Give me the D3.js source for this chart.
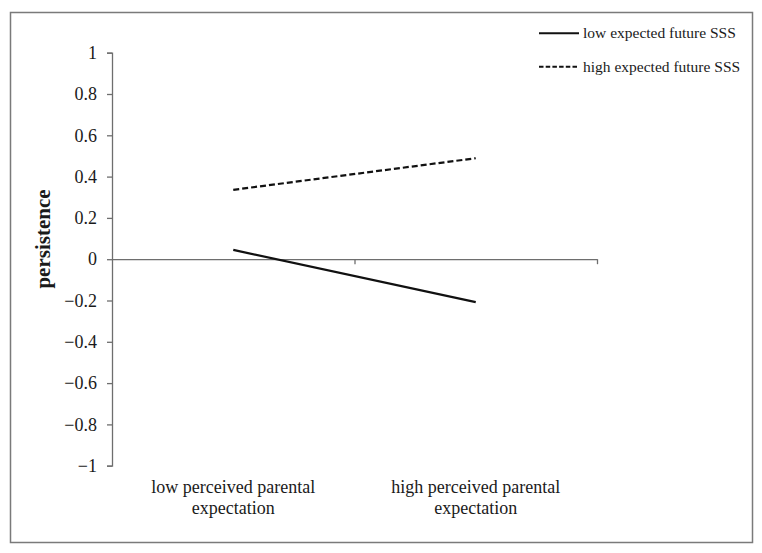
<!DOCTYPE html>
<html>
<head>
<meta charset="utf-8">
<script src="https://cdn.jsdelivr.net/npm/d3@7"></script>
<style>
  body { margin: 0; background: #fff; }
</style>
</head>
<body>
<div id="chart"></div>
<script>
// data
const categories = ["low perceived parental|expectation", "high perceived parental|expectation"];
const seriesNames = ["low expected future SSS", "high expected future SSS"];
const lowSSS = [0.045, -0.208];
const highSSS = [0.336, 0.489];
const yTicks = [-1, -0.8, -0.6, -0.4, -0.2, 0, 0.2, 0.4, 0.6, 0.8, 1];

const W = 762, H = 553;
const plot = {left: 112, right: 597, top: 52.7, bottom: 465.7};
const serif = "'Liberation Serif', 'Times New Roman', 'DejaVu Serif', serif";

const svg = d3.select("#chart")
  .append("svg")
  .attr("width", W)
  .attr("height", H)
  .attr("font-family", serif);

// outer frame
svg.append("rect")
  .attr("x", 10.5).attr("y", 12.5)
  .attr("width", 742).attr("height", 530)
  .attr("fill", "none")
  .attr("stroke", "#7a7a7a")
  .attr("stroke-width", 1.5);

const y = d3.scaleLinear().domain([-1, 1]).range([plot.bottom, plot.top]);
const x = d3.scaleBand().domain(categories).range([plot.left, plot.right]).padding(0);
const xEdge = d3.scaleLinear().domain([0, categories.length]).range([plot.left, plot.right]);
const cx = d => x(d) + x.bandwidth() / 2;

// y axis
const yAxis = svg.append("g")
  .attr("transform", `translate(${plot.left},0)`)
  .call(d3.axisLeft(y).tickValues(yTicks).tickSize(5).tickPadding(10)
    .tickFormat(d3.format("~g")));
yAxis.attr("font-family", serif).attr("font-size", 18);
yAxis.select(".domain").attr("stroke", "#6e6e6e").attr("stroke-width", 1.3);
yAxis.selectAll(".tick line").attr("stroke", "#6e6e6e").attr("stroke-width", 1.3);
yAxis.selectAll(".tick text")
  .style("font-family", serif)
  .style("font-size", "18px")
  .attr("fill", "#1a1a1a");

// x axis at zero
const xAxis = svg.append("g")
  .attr("transform", `translate(0,${y(0)})`)
  .call(d3.axisBottom(xEdge).tickValues(d3.range(1, categories.length + 1))
    .tickSize(5).tickSizeOuter(0).tickFormat(""));
xAxis.select(".domain").attr("stroke", "#6e6e6e").attr("stroke-width", 1.3);
xAxis.selectAll(".tick line").attr("stroke", "#6e6e6e").attr("stroke-width", 1.3);

// category labels
categories.forEach(c => {
  const t = svg.append("text")
    .attr("text-anchor", "middle")
    .attr("fill", "#1a1a1a")
    .style("font-family", serif)
    .style("font-size", "18px");
  c.split("|").forEach((line, i) => {
    t.append("tspan")
      .attr("x", cx(c))
      .attr("y", 493 + i * 21)
      .text(line);
  });
});

// y title
svg.append("text")
  .attr("transform", `translate(50,${(188 + 290) / 2}) rotate(-90)`)
  .attr("text-anchor", "middle")
  .attr("fill", "#1a1a1a")
  .style("font-family", serif)
  .style("font-size", "21px")
  .style("font-weight", "bold")
  .text("persistence");

// lines
const line = d3.line()
  .x((d, i) => cx(categories[i]))
  .y(d => y(d));

svg.append("path")
  .datum(lowSSS)
  .attr("d", line)
  .attr("fill", "none")
  .attr("stroke", "#111")
  .attr("stroke-width", 2.2);

svg.append("path")
  .datum(highSSS)
  .attr("d", line)
  .attr("fill", "none")
  .attr("stroke", "#111")
  .attr("stroke-width", 2.2)
  .attr("stroke-dasharray", "6,3");

// legend
const legend = svg.append("g");
seriesNames.forEach((name, i) => {
  const ly = 33.3 + i * 33.4;
  legend.append("line")
    .attr("x1", 539).attr("x2", 579)
    .attr("y1", ly).attr("y2", ly)
    .attr("stroke", "#111")
    .attr("stroke-width", 2)
    .attr("stroke-dasharray", i === 1 ? "4.5,2.2" : null);
  legend.append("text")
    .attr("x", 583)
    .attr("y", ly)
    .attr("dy", "0.32em")
    .attr("fill", "#1a1a1a")
    .style("font-family", serif)
    .style("font-size", "15.5px")
    .text(name);
});
</script>
</body>
</html>
